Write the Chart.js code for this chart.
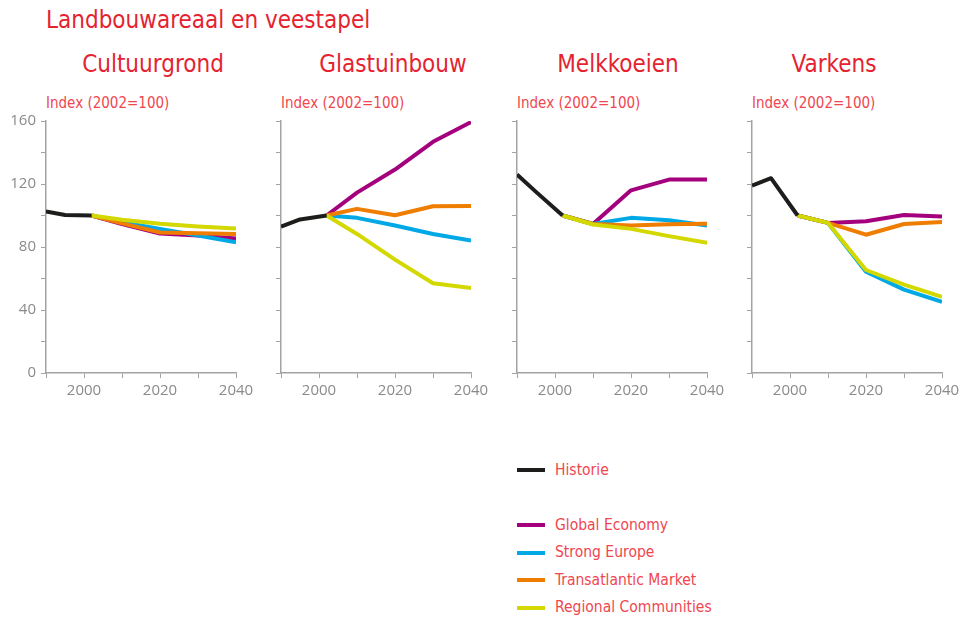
<!DOCTYPE html>
<html>
<head>
<meta charset="utf-8">
<script src="https://cdn.jsdelivr.net/npm/chart.js@4.4.1/dist/chart.umd.min.js"></script>
<style>
  html, body { margin: 0; padding: 0; background: #fff; }
  body { width: 968px; height: 619px; position: relative; overflow: hidden; }
  .txt { position: absolute; white-space: nowrap; line-height: 1;
         font-family: "Liberation Sans Narrow", "DejaVu Sans Condensed", "Open Sans", sans-serif; }
  #title { left: 46px; top: 8px; font-size: 24px; color: #e52330; }
  .ptitle { top: 52px; font-size: 24px; color: #e52330; transform: translateX(-50%); }
  .index { top: 95.5px; font-size: 15px; color: #ef4650; }
  .leg { color: #ef4650; font-size: 15.5px; left: 555px; }
  .sw { position: absolute; left: 517px; width: 28px; height: 4px; }
  canvas { position: absolute; top: 107px; }
</style>
</head>
<body>
<div id="title" class="txt">Landbouwareaal en veestapel</div>
<div id="panels"></div>
<div id="legend"></div>

<script>
// Panels
const panelTitles = ['Cultuurgrond', 'Glastuinbouw', 'Melkkoeien', 'Varkens'];

// Years
const histYears = [1990, 1995, 2002];
const scenYears = [2002, 2010, 2020, 2030, 2040];

// Index (2002=100), one row per panel
const historie = [
    [102.5, 100.3, 100],
    [93, 97.5, 100],
    [126, 115, 100],
    [119, 123.7, 100]
];
const globalEconomy = [
    [100, 94.5, 88.5, 87.3, 85.4],
    [100, 114.5, 129.2, 146.8, 159.3],
    [100, 94.6, 116, 122.8, 122.8],
    [100, 95.3, 96.3, 100.3, 99.4]
];
const strongEurope = [
    [100, 95.8, 91.5, 87.3, 83],
    [100, 98.5, 93.6, 88.3, 84.1],
    [100, 94.6, 98.5, 97, 93.6],
    [100, 95.3, 64.3, 52.9, 45.1]
];
const transatlanticMarket = [
    [100, 95, 89.2, 88.8, 88.2],
    [100, 104.2, 100.2, 105.9, 106.1],
    [100, 94.6, 93.6, 94.5, 94.7],
    [100, 95.3, 87.8, 94.6, 95.9]
];
const regionalCommunities = [
    [100, 97.3, 94.7, 93, 91.8],
    [100, 88.3, 72, 57, 54],
    [100, 94.3, 91.5, 86.9, 82.6],
    [100, 95.3, 65.4, 56.1, 48.3]
];

// Axis ticks
const yTicks = { min: 0, max: 160, step: 20, labelEvery: 40 };
const xTicks = { min: 1990, max: 2040, step: 10, labelEvery: 20 };

const seriesInfo = [
    { label: 'Historie', color: '#1d1d1b' },
    { label: 'Global Economy', color: '#a4007d' },
    { label: 'Strong Europe', color: '#00a9e6' },
    { label: 'Transatlantic Market', color: '#ef7d00' },
    { label: 'Regional Communities', color: '#d3d800' }
];

// plot left edges and title centers (px)
const plotLeft = [46, 281, 517, 752];
const titleCenter = [153, 393, 618, 834];

const axisColor = '#a3a3a3';
const tickFont = { family: '"Open Sans", sans-serif', size: 15 };

function toPoints(xs, ys) {
    return xs.map((x, i) => ({ x: x, y: ys[i] }));
}

const panelsDiv = document.getElementById('panels');

panelTitles.forEach((name, p) => {
    const t = document.createElement('div');
    t.className = 'txt ptitle';
    t.style.left = titleCenter[p] + 'px';
    t.textContent = name;
    panelsDiv.appendChild(t);

    const ix = document.createElement('div');
    ix.className = 'txt index';
    ix.style.left = plotLeft[p] + 'px';
    ix.textContent = 'Index (2002=100)';
    panelsDiv.appendChild(ix);

    const cv = document.createElement('canvas');
    cv.width = 266;
    cv.height = 296;
    cv.style.left = (plotLeft[p] - 46) + 'px';
    panelsDiv.appendChild(cv);

    const scen = [globalEconomy, strongEurope, transatlanticMarket, regionalCommunities];
    const datasets = [];
    // first dataset is drawn on top
    datasets.push({ data: toPoints(histYears, historie[p]), info: seriesInfo[0] });
    for (let s = 3; s >= 0; s--) {
        datasets.push({ data: toPoints(scenYears, scen[s][p]), info: seriesInfo[s + 1] });
    }

    new Chart(cv.getContext('2d'), {
        type: 'line',
        data: {
            datasets: datasets.map(d => ({
                label: d.info.label,
                data: d.data,
                borderColor: d.info.color,
                backgroundColor: d.info.color,
                borderWidth: 4,
                pointRadius: 0,
                tension: 0,
                fill: false,
                borderJoinStyle: 'round'
            }))
        },
        options: {
            responsive: false,
            animation: false,
            layout: { padding: { top: 10, right: 30, left: 0, bottom: 0 } },
            plugins: { legend: { display: false }, tooltip: { enabled: false } },
            scales: {
                x: {
                    type: 'linear',
                    min: xTicks.min,
                    max: xTicks.max,
                    afterFit: s => { s.height = 30; },
                    border: { color: axisColor, width: 1.5 },
                    grid: { drawOnChartArea: false, drawTicks: true, tickLength: 5, color: axisColor, lineWidth: 1 },
                    ticks: {
                        stepSize: xTicks.step,
                        autoSkip: false,
                        maxRotation: 0,
                        color: '#8a8a8a',
                        font: tickFont,
                        padding: 4,
                        callback: v => (v % xTicks.labelEvery === 0 ? String(v) : '')
                    }
                },
                y: {
                    min: yTicks.min,
                    max: yTicks.max,
                    afterFit: s => { s.width = 46; },
                    border: { color: axisColor, width: 1.5 },
                    grid: { drawOnChartArea: false, drawTicks: true, tickLength: 5, color: axisColor, lineWidth: 1 },
                    ticks: {
                        stepSize: yTicks.step,
                        autoSkip: false,
                        color: '#8a8a8a',
                        font: tickFont,
                        padding: 5,
                        callback: v => (p === 0 && v % yTicks.labelEvery === 0 ? String(v) : '')
                    }
                }
            }
        }
    });
});

// Legend
const legendDiv = document.getElementById('legend');
const legendY = [470, 525, 552.5, 580, 607.5];
seriesInfo.forEach((s, i) => {
    const sw = document.createElement('div');
    sw.className = 'sw';
    sw.style.top = (legendY[i] - 2) + 'px';
    sw.style.background = s.color;
    legendDiv.appendChild(sw);

    const lb = document.createElement('div');
    lb.className = 'txt leg';
    lb.style.top = (legendY[i] - 7.5) + 'px';
    lb.textContent = s.label;
    legendDiv.appendChild(lb);
});
</script>
</body>
</html>
